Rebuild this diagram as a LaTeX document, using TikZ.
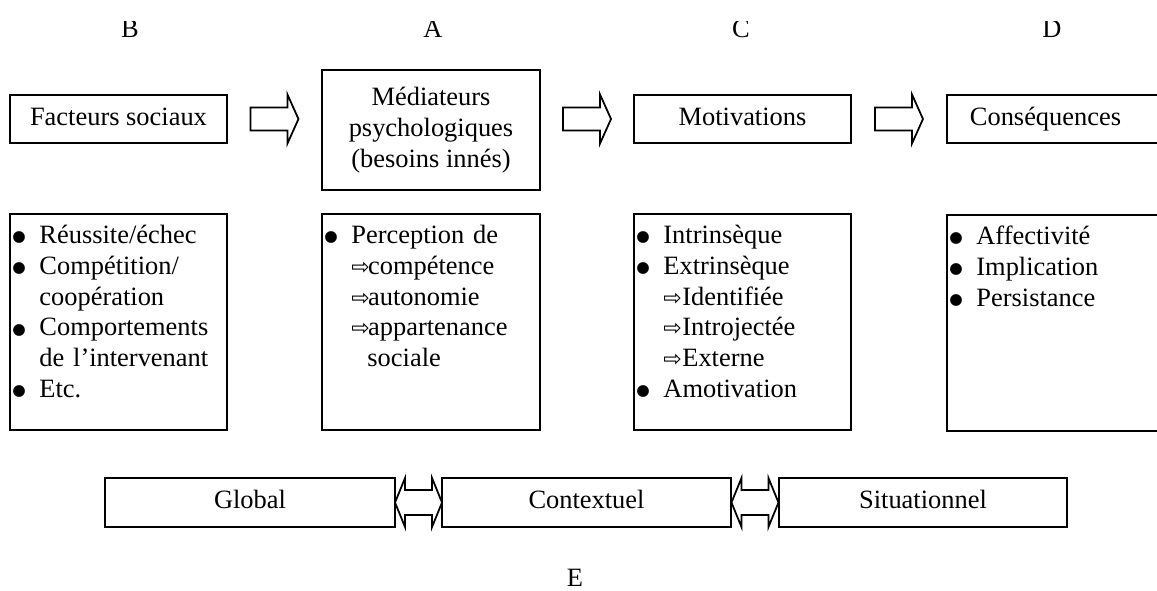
\documentclass[tikz,border=0pt]{standalone}
\usepackage{fontspec}
\setmainfont{Liberation Serif}
\newfontfamily\symfont{DejaVu Sans}
\usetikzlibrary{calc}

% list helpers
\newcommand{\puce}{\makebox[13.6pt][l]{\hspace{1.3pt}{\symfont\fontsize{7}{7}\selectfont\raisebox{0.9pt}{●}}}}
\newcommand{\retrait}{\hspace*{13.6pt}}
\newcommand{\fleche}[1]{\makebox[#1][l]{\symfont\fontsize{10}{10}\selectfont ⇨}}

\tikzset{
  txt/.style={font=\fontsize{12}{14}\selectfont},
  box/.style={txt, draw, line width=0.9pt, minimum height=21.8pt, inner sep=2pt,
    text height=8.4pt, text depth=2.6pt},
  listbox/.style={draw, line width=0.9pt, minimum width=98.5pt, minimum height=98pt, inner sep=0pt},
  listtext/.style={txt, anchor=north west, inner xsep=0pt, inner ysep=3.8pt, text width=95pt, align=left},
  letter/.style={txt, anchor=base, inner sep=0pt},
  arrowline/.style={line width=0.8pt, line join=miter},
  pics/fatarrow/.style={code={\draw[arrowline] (-#1,-11.5) -- (#1-11,-11.5) -- (#1-11,-24.5)
      -- (#1,0) -- (#1-11,24.5) -- (#1-11,11.5) -- (-#1,11.5) -- cycle;}},
  dblarrow/.pic={\draw[arrowline] (-23.5,0) -- (-13.5,-24.5) -- (-13.5,-12.5) -- (13.5,-12.5)
      -- (13.5,-24.5) -- (23.5,0) -- (13.5,24.5) -- (13.5,12.5) -- (-13.5,12.5)
      -- (-13.5,24.5) -- cycle;}
}

\begin{document}
\begin{tikzpicture}[x=0.454pt, y=-0.454pt]
  \useasboundingbox (0,0) rectangle (1157,590);
  \clip (0,0) rectangle (1157,590);

  % column letters (cut at the top)
  \begin{scope}
    \clip (0,21) rectangle (1157,60);
    \node[letter] (lB) at (130,37) {B};
    \node[letter] (lA) at (433,37) {A};
    \node[letter] (lC) at (741,37) {C};
    \node[letter] (lD) at (1052,37) {D};
  \end{scope}

  % top row
  \node[box, minimum width=98.5pt] (fs) at (118.5,119) {Facteurs sociaux};
  \node[txt, draw, line width=0.9pt, minimum width=99pt, minimum height=54.5pt, align=center] (med)
    at (431,130) {Médiateurs\\psychologiques\\(besoins innés)};
  \node[box, minimum width=98.5pt] (mot) at (742.5,119) {Motivations};
  \node[box, anchor=west, text width=95pt, inner xsep=10.4pt, align=left] (cons) at (946,119) {Conséquences};

  \pic at ($(fs.east)!0.5!(med.west |- fs.east)$) {fatarrow=24};
  \pic at ($(med.east |- mot.west)!0.5!(mot.west)$) {fatarrow=24};
  \pic at ($(mot.east)!0.5!(cons.west)$) {fatarrow=24};

  % lists
  \node[listbox] (bl) at (118.5,322) {};
  \node[listtext] (blt) at (bl.north west)
    {\strut\puce Réussite/échec\\
     \puce Compétition/\\
     \retrait coopération\\
     \puce Comportements\\
     \retrait de l’intervenant\\
     \puce Etc.};
  \node[listbox, minimum width=99pt] (al) at (431,322) {};
  \node[listtext] (alt) at (al.north west)
    {\strut\puce Perception de\\
     \retrait\fleche{7.6pt}compétence\\
     \retrait\fleche{7.6pt}autonomie\\
     \retrait\fleche{7.6pt}appartenance\\
     \retrait\hspace*{7.3pt}sociale};
  \node[listbox] (cl) at (742.5,322) {};
  \node[listtext] (clt) at (cl.north west)
    {\strut\puce Intrinsèque\\
     \puce Extrinsèque\\
     \retrait\fleche{8.6pt}Identifiée\\
     \retrait\fleche{8.6pt}Introjectée\\
     \retrait\fleche{8.6pt}Externe\\
     \puce Amotivation};
  \node[listbox, anchor=north west, minimum width=120pt] (dl) at (946,214) {};
  \node[listtext] (dlt) at (dl.north west)
    {\strut\puce Affectivité\\
     \puce Implication\\
     \puce Persistance};

  % bottom row
  \node[box, minimum width=131.7pt, minimum height=22.2pt] (glob) at (250,502.5) {Global};
  \node[box, minimum width=131.2pt, minimum height=22.2pt] (ctx) at (586.5,502.5) {Contextuel};
  \node[box, minimum width=130.8pt, minimum height=22.2pt] (sit) at (923,502.5) {Situationnel};
  \pic at ($(glob.east)!0.5!(ctx.west)$) {dblarrow};
  \pic at ($(ctx.east)!0.5!(sit.west)$) {dblarrow};

  \node[letter] (lE) at (575,586) {E};
\end{tikzpicture}
\end{document}
